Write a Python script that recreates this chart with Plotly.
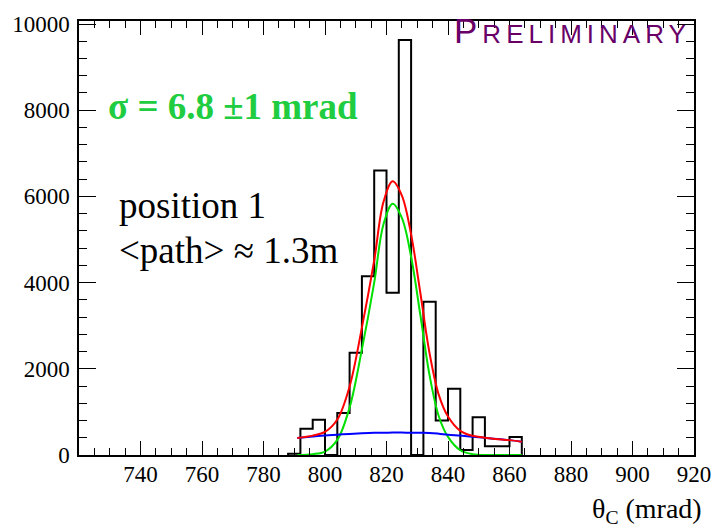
import plotly.graph_objects as go

# Histogram of the Cherenkov angle: 4 mrad bins starting at 788 mrad
bin_start = 788
bin_width = 4
counts = [30, 610, 815, 0, 975, 2375, 4150, 6600, 3765, 9630,
          0, 3555, 800, 1535, 115, 875, 205, 205, 420]

# Fit curves (signal Gaussian, background, total)
curve_x = [791, 796, 800, 804, 808, 812, 816, 819, 822, 825,
           828, 831, 834, 837, 840, 844, 848, 854, 860, 864]
signal_y = [0, 20, 80, 350, 1100, 2450, 4000, 5350, 5830, 5500,
            4600, 3250, 1850, 900, 420, 110, 20, 0, 0, 0]
background_y = [395, 430, 455, 472, 490, 505, 515, 518, 520, 520,
                518, 515, 512, 495, 472, 450, 425, 385, 345, 310]
total_y = [395, 450, 535, 822, 1590, 2955, 4515, 5868, 6350, 6020,
           5118, 3765, 2362, 1395, 892, 560, 445, 385, 345, 310]

x_ticks = [740, 760, 780, 800, 820, 840, 860, 880, 900, 920]
y_ticks = [0, 2000, 4000, 6000, 8000, 10000]

# step outline of the histogram
edges = [bin_start + i * bin_width for i in range(len(counts) + 1)]
hist_x = [edges[0]] + edges[:-1] + [edges[-1]]
hist_y = [0] + counts + [0]

fig = go.Figure()
fig.add_trace(go.Scatter(x=hist_x, y=hist_y, mode="lines",
                         line=dict(color="black", width=2, shape="hv"),
                         hoverinfo="skip"))
fig.add_trace(go.Scatter(x=curve_x, y=signal_y, mode="lines",
                         line=dict(color="#00e000", width=2, shape="spline")))
fig.add_trace(go.Scatter(x=curve_x, y=background_y, mode="lines",
                         line=dict(color="#0000ff", width=2, shape="spline")))
fig.add_trace(go.Scatter(x=curve_x, y=total_y, mode="lines",
                         line=dict(color="#ff0000", width=2, shape="spline")))

serif = "Liberation Serif"
axis_common = dict(showgrid=False, zeroline=False, showline=True,
                   linecolor="black", linewidth=1.5, mirror="ticks",
                   ticks="inside", tickcolor="black", tickwidth=1,
                   tickfont=dict(family=serif, size=23, color="black"))

fig.update_xaxes(range=[720, 920], tickmode="array", tickvals=x_ticks,
                 ticktext=[str(v) for v in x_ticks], ticklen=14,
                 ticklabelstandoff=-2,
                 minor=dict(tick0=720, dtick=5, ticklen=7, ticks="inside",
                            tickcolor="black", tickwidth=1),
                 **axis_common)
fig.update_yaxes(range=[0, 10070], tickmode="array", tickvals=y_ticks,
                 ticktext=[str(v) for v in y_ticks], ticklen=17,
                 ticklabelstandoff=3,
                 minor=dict(tick0=0, dtick=400, ticklen=8, ticks="inside",
                            tickcolor="black", tickwidth=1),
                 **axis_common)

annotations = [
    dict(x=0.044, y=0.804, xref="paper", yref="paper", xanchor="left",
         yanchor="middle", showarrow=False,
         text="<b>σ = 6.8 ±1 mrad</b>",
         font=dict(family=serif, size=37, color="#20cc40")),
    dict(x=0.0616, y=0.5747, xref="paper", yref="paper", xanchor="left",
         yanchor="middle", showarrow=False, text="position 1",
         font=dict(family=serif, size=37, color="black")),
    dict(x=0.0616, y=0.4706, xref="paper", yref="paper", xanchor="left",
         yanchor="middle", showarrow=False, text="&lt;path&gt; ≈ 1.3m",
         font=dict(family=serif, size=37, color="black")),
    dict(x=0.6057, y=0.979, xref="paper", yref="paper", xanchor="left",
         yanchor="middle", showarrow=False,
         text=("<span style='letter-spacing:5px'>P"
               "<span style='font-size:26px'>RELIMINARY</span></span>"),
         font=dict(family="Liberation Sans", size=35, color="#680068")),
    dict(x=1.016, y=-0.128, xref="paper", yref="paper", xanchor="right",
         yanchor="middle", showarrow=False,
         text="θ<sub>C</sub> (mrad)",
         font=dict(family=serif, size=28, color="black")),
]

fig.update_layout(width=723, height=528, autosize=False,
                  margin=dict(l=71, r=18, t=13, b=73),
                  paper_bgcolor="white", plot_bgcolor="white",
                  showlegend=False, annotations=annotations)

fig.write_html("out.html")
